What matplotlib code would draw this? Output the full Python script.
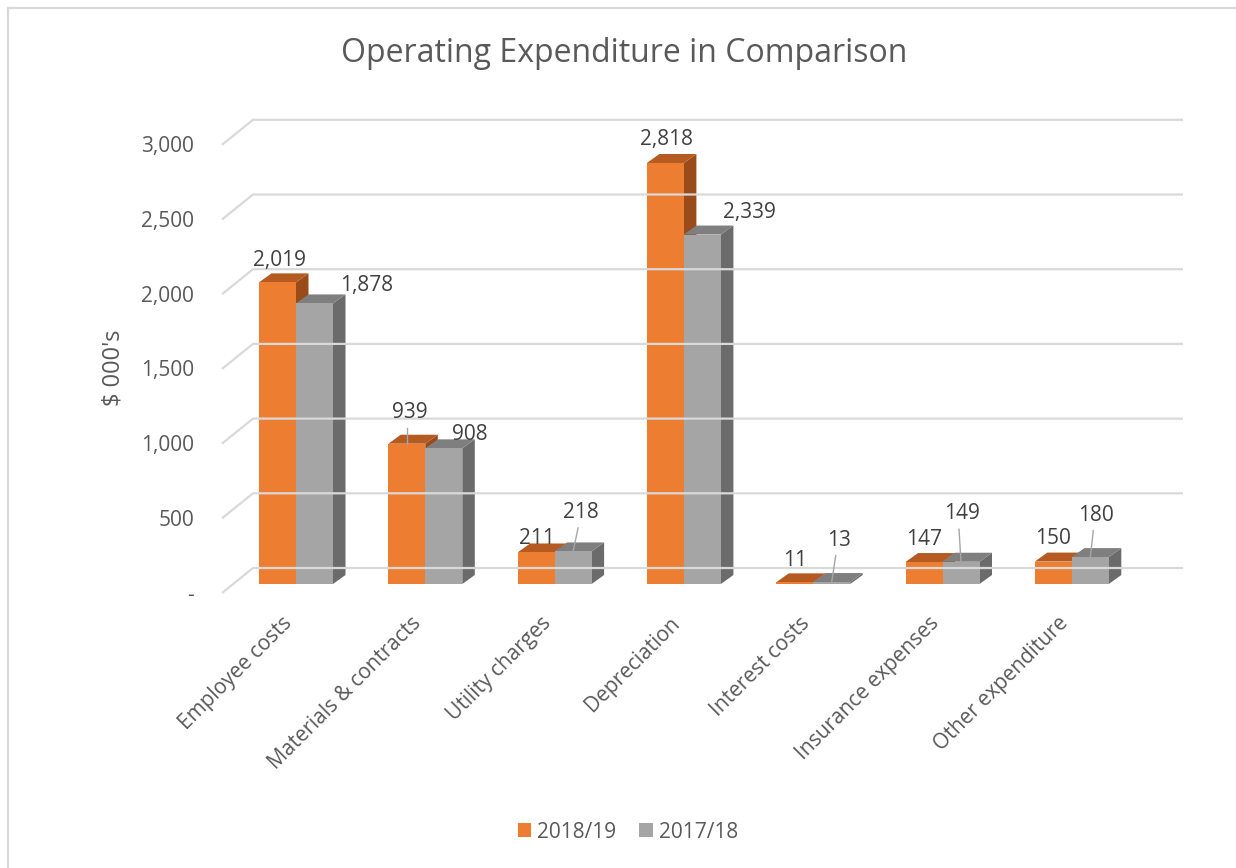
"""Operating expenditure comparison: Excel-style 3D clustered column chart."""

import matplotlib

matplotlib.use("Agg")
import matplotlib.pyplot as plt
from matplotlib.patches import Patch, Polygon

categories = [
    "Employee costs",
    "Materials & contracts",
    "Utility charges",
    "Depreciation",
    "Interest costs",
    "Insurance expenses",
    "Other expenditure",
]
series_names = ["2018/19", "2017/18"]
values_1819 = [2019, 939, 211, 2818, 11, 147, 150]
values_1718 = [1878, 908, 218, 2339, 13, 149, 180]
y_ticks = [0, 500, 1000, 1500, 2000, 2500, 3000]
y_tick_labels = ["-", "500", "1,000", "1,500", "2,000", "2,500", "3,000"]

# data label placement (screen px offset from bar top centre) and leader flags
label_offsets_1819 = [(2, -24), (3, -33), (1, -16), (1.5, -25), (0, -24), (0, -25), (0, -25)]
label_offsets_1718 = [(52, -20), (26, -16), (8, -41), (47, -24), (7, -44), (1, -50), (6, -44)]
leaders_1819 = [False, True, False, False, False, False, False]
leaders_1718 = [False, False, True, False, True, True, True]

# colours: front, top, side
ORANGE = ("#ED7D31", "#B55B22", "#9A4B1A")
GREY = ("#A5A5A5", "#7F7F7F", "#6B6B6B")
GRID = "#D9D9D9"
TEXT = "#595959"
LABEL = "#404040"

# pixel geometry of the drawing
W, H = 1236, 868
X0, CAT = 296.0, 129.3      # px of first category centre, px per category
Y0, VAL = 584.0, 0.1494     # px of value 0 (front), px per unit
BAR = 37.0 / CAT            # one bar width in category units
DEPTH_X, DEPTH_Y = 12.5 / CAT, 9.0 / VAL
FLOOR_FRONT = 9.0 / VAL     # front edge of floor below bar base
WALL_BACK = 16.0 / VAL      # back wall above bar base
WALL_X0, WALL_X1, WALL_X2 = (222 - X0) / CAT, (253 - X0) / CAT, (1183 - X0) / CAT

plt.rcParams["font.family"] = ["Open Sans", "DejaVu Sans"]

fig = plt.figure(figsize=(W / 100, H / 100), dpi=100)
ax = fig.add_axes([0, 0, 1, 1])
ax.set_xlim(-X0 / CAT, (W - X0) / CAT)
ax.set_ylim((Y0 - H) / VAL, Y0 / VAL)
ax.axis("off")

# chart border (only top and left edges fall inside the image)
ax.plot([(8 - X0) / CAT, (W + 10 - X0) / CAT], [(Y0 - 8) / VAL] * 2, color=GRID, lw=1.6)
ax.plot([(8 - X0) / CAT] * 2, [(Y0 - 8) / VAL, (Y0 - H - 10) / VAL], color=GRID, lw=1.6)

# back-wall gridlines and side-wall floor lines
for v, lab in zip(y_ticks, y_tick_labels):
    ax.plot(
        [WALL_X0, WALL_X1, WALL_X2],
        [v - FLOOR_FRONT, v + WALL_BACK, v + WALL_BACK],
        color=GRID,
        lw=1.6,
        solid_capstyle="butt",
    )
    ax.text((194 - X0) / CAT, v - FLOOR_FRONT - 7.5 / VAL, lab, ha="right",
            va="baseline", fontsize=15, color=TEXT)


def draw_bar(left, v, cols):
    right = left + BAR
    front = [(left, 0), (right, 0), (right, v), (left, v)]
    top = [(left, v), (right, v), (right + DEPTH_X, v + DEPTH_Y), (left + DEPTH_X, v + DEPTH_Y)]
    side = [(right, 0), (right + DEPTH_X, DEPTH_Y), (right + DEPTH_X, v + DEPTH_Y), (right, v)]
    for pts, c in ((side, cols[2]), (top, cols[1]), (front, cols[0])):
        ax.add_patch(Polygon(pts, closed=True, facecolor=c, edgecolor="none"))


def draw_label(xc, v, off, leader):
    lx = xc + off[0] / CAT
    ly = v - off[1] / VAL
    ax.text(lx, ly - 7.5 / VAL, f"{v:,}", ha="center", va="baseline",
            fontsize=15, color=LABEL)
    if leader:
        ax.plot([lx - 3 / CAT, xc], [ly - 17.5 / VAL, v], color="#A6A6A6", lw=1)


for i in range(len(categories)):
    draw_bar(i - BAR, values_1819[i], ORANGE)
    draw_bar(i, values_1718[i], GREY)

for i in range(len(categories)):
    draw_label(i - BAR / 2, values_1819[i], label_offsets_1819[i], leaders_1819[i])
    draw_label(i + BAR / 2, values_1718[i], label_offsets_1718[i], leaders_1718[i])
    ax.text(i - 3 / CAT, -40 / VAL, categories[i], rotation=45, ha="right",
            va="baseline", rotation_mode="anchor", fontsize=15, color=TEXT)

ax.text((624 - X0) / CAT, (Y0 - 54) / VAL, "Operating Expenditure in Comparison",
        ha="center", va="center", fontsize=23, color=TEXT)
ax.text((113 - X0) / CAT, (Y0 - 368) / VAL, "$ 000's", rotation=90,
        ha="center", va="center", fontsize=17, color=TEXT)

handles = [Patch(facecolor=ORANGE[0]), Patch(facecolor=GREY[0])]
fig.legend(handles, series_names, loc="center", bbox_to_anchor=(628 / W, 1 - 832 / H),
           ncol=2, frameon=False, fontsize=15, handlelength=0.65, handleheight=0.65,
           handletextpad=0.3, columnspacing=1.1, labelcolor=TEXT)

fig.savefig("out.png", dpi=100)
plt.close(fig)
